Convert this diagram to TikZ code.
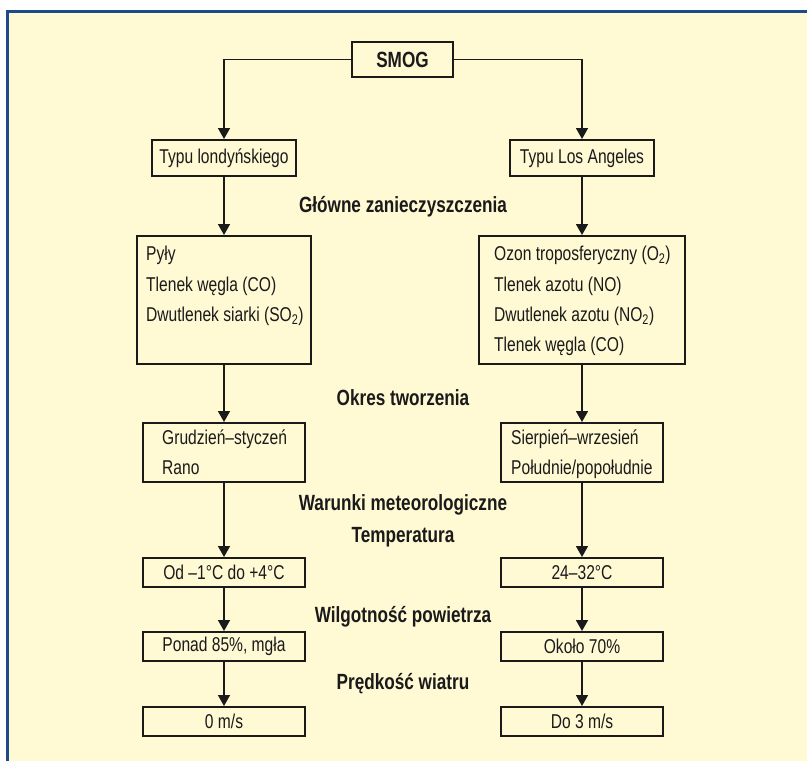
\documentclass[tikz,border=0pt]{standalone}
\usepackage{fontspec}
\setmainfont{Liberation Sans}[FakeStretch=0.78]
\usetikzlibrary{arrows.meta}
\definecolor{cream}{HTML}{FFF9D4}
\definecolor{frameblue}{HTML}{1C4A8A}
\definecolor{ink}{HTML}{1A1A1A}
\begin{document}
\begin{tikzpicture}[x=1pt,y=-1pt,
  box/.style={draw=ink, line width=2pt, inner sep=0pt, text=ink, font=\fontsize{20}{23}\selectfont},
  itemtext/.style={anchor=base west, inner sep=0pt, text=ink, font=\fontsize{20}{23}\selectfont},
  heading/.style={anchor=base, inner sep=0pt, text=ink, font=\fontsize{22}{25}\selectfont\bfseries},
  arr/.style={draw=ink, line width=1.7pt, -{Triangle[width=12pt,length=11pt]}}]
\useasboundingbox (0,0) rectangle (807,761);
\fill[cream] (7.5,11.5) rectangle (830,780);
\draw[frameblue, line width=2.5pt] (7.5,780) -- (7.5,11.5) -- (830,11.5);

% top
\node[box, minimum width=101pt, minimum height=35pt] (smog) at (402.5,59.5) {\fontsize{22}{25}\selectfont\bfseries SMOG};
\node[box, minimum width=144pt, minimum height=36pt] (tl) at (224,158) {Typu londyńskiego};
\node[box, minimum width=144pt, minimum height=36pt] (tla) at (582,158) {Typu Los Angeles};

\node[heading] (h1) at (403,212) {Główne zanieczyszczenia};

% pollutants
\node[box, minimum width=174pt, minimum height=128pt] (pyly) at (224,300) {};
\node[box, minimum width=206pt, minimum height=128pt] (ozon) at (582,300) {};
\node[itemtext] (p1) at (146,260) {Pyły};
\node[itemtext] (p2) at (146,291) {Tlenek węgla (CO)};
\node[itemtext] (p3) at (146,321) {Dwutlenek siarki (SO\textsubscript{2})};
\node[itemtext] (o1) at (494,260) {Ozon troposferyczny (O\textsubscript{2})};
\node[itemtext] (o2) at (494,291) {Tlenek azotu (NO)};
\node[itemtext] (o3) at (494,321) {Dwutlenek azotu (NO\textsubscript{2})};
\node[itemtext] (o4) at (494,351) {Tlenek węgla (CO)};

\node[heading] (h2) at (403,405) {Okres tworzenia};

% period
\node[box, minimum width=162pt, minimum height=59pt] (grud) at (224,452.5) {};
\node[box, minimum width=162pt, minimum height=59pt] (sierp) at (582,452.5) {};
\node[itemtext] (g1) at (162,444) {Grudzień–styczeń};
\node[itemtext] (g2) at (162,474) {Rano};
\node[itemtext] (s1) at (511,444) {Sierpień–wrzesień};
\node[itemtext] (s2) at (511,474) {Południe/popołudnie};

\node[heading] (h3) at (403,510) {Warunki meteorologiczne};
\node[heading] (h4) at (403,542) {Temperatura};

\node[box, minimum width=162pt, minimum height=29pt] (tempL) at (224,572.5) {Od –1°C do +4°C};
\node[box, minimum width=162pt, minimum height=29pt] (tempR) at (582,572.5) {24–32°C};

\node[heading] (h5) at (403,622) {Wilgotność powietrza};

\node[box, minimum width=162pt, minimum height=29pt] (humL) at (224,646.5) {Ponad 85\%, mgła};
\node[box, minimum width=162pt, minimum height=29pt] (humR) at (582,646.5) {Około 70\%};

\node[heading] (h6) at (403,689) {Prędkość wiatru};

\node[box, minimum width=162pt, minimum height=29pt] (windL) at (224,721.5) {0 m/s};
\node[box, minimum width=162pt, minimum height=29pt] (windR) at (582,721.5) {Do 3 m/s};

% connectors
\draw[arr] (smog.west) -| (tl.north);
\draw[arr] (smog.east) -| (tla.north);
\draw[arr] (tl.south) -- (pyly.north);
\draw[arr] (tla.south) -- (ozon.north);
\draw[arr] (pyly.south) -- (grud.north);
\draw[arr] (ozon.south) -- (sierp.north);
\draw[arr] (grud.south) -- (tempL.north);
\draw[arr] (sierp.south) -- (tempR.north);
\draw[arr] (tempL.south) -- (humL.north);
\draw[arr] (tempR.south) -- (humR.north);
\draw[arr] (humL.south) -- (windL.north);
\draw[arr] (humR.south) -- (windR.north);
\end{tikzpicture}
\end{document}
